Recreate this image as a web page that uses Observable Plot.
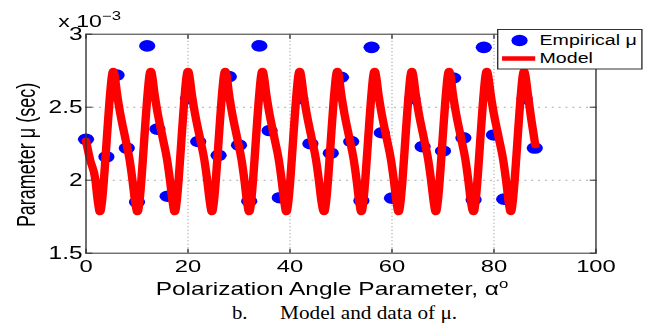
<!DOCTYPE html>
<html><head><meta charset="utf-8">
<script src="https://cdn.jsdelivr.net/npm/d3@7"></script>
<script src="https://cdn.jsdelivr.net/npm/@observablehq/plot@0.6"></script>
<style>
html,body{margin:0;padding:0;background:#fff;}
#wrap{position:relative;width:652px;height:326px;overflow:hidden;font-family:"Liberation Sans",Arial,sans-serif;}
#stretch{position:absolute;left:0;top:0;width:466px;height:300px;transform:scaleX(1.4);transform-origin:0 0;}
#stretch svg{overflow:visible;}
.cap{position:absolute;top:303px;font-family:"Liberation Serif","Times New Roman",serif;font-size:18px;line-height:1.15;white-space:nowrap;transform-origin:0 0;}
</style></head><body>
<div id="wrap"><div id="stretch"></div>
<div class="cap" style="left:232px;transform:scaleX(1.15)">b.</div>
<div class="cap" style="left:280px;transform:scaleX(1.18)">Model and data of μ.</div>
</div>
<script>
// Tick positions and labels
const xTicks = [0, 20, 40, 60, 80, 100];
const xTickLabels = ["0", "20", "40", "60", "80", "100"];
const yTicks = [1.5, 2, 2.5, 3];
const yTickLabels = ["1.5", "2", "2.5", "3"];
const xGrid = [20, 40, 60, 80];
const yGrid = [2, 2.5];

// Empirical mu (x 10^-3 sec)
const empX = [0, 4, 6, 8, 10, 12, 14, 16, 20,
  22, 26, 28, 30, 32, 34, 36, 38, 42,
  44, 48, 50, 52, 54, 56, 58, 60, 64,
  66, 70, 72, 74, 76, 78, 80, 82, 86,
  88];
const empY = [2.28, 2.16, 2.72, 2.22, 1.85, 2.92, 2.35, 1.89, 2.56,
  2.265, 2.17, 2.71, 2.24, 1.856, 2.92, 2.34, 1.88, 2.56,
  2.25, 2.185, 2.705, 2.265, 1.86, 2.91, 2.325, 1.877, 2.56,
  2.23, 2.20, 2.70, 2.29, 1.866, 2.91, 2.31, 1.87, 2.56,
  2.22];

// Model curve
const modelX = [
  0, 0.8, 1.85, 2.3,
  2.75, 3.15, 3.55, 4.05, 4.75, 5.1, 5.35, 5.65, 6.05, 6.75, 7.75, 8.55, 9.15, 9.6,
  10.1, 10.5, 10.9, 11.4, 12.1, 12.45, 12.7, 13.0, 13.4, 14.1, 15.1, 15.9, 16.5, 16.95,
  17.4, 17.8, 18.2, 18.7, 19.4, 19.75, 20.0, 20.3, 20.7, 21.4, 22.4, 23.2, 23.8, 24.25,
  24.7, 25.1, 25.5, 26.0, 26.7, 27.05, 27.3, 27.6, 28.0, 28.7, 29.7, 30.5, 31.1, 31.55,
  32.0, 32.4, 32.8, 33.3, 34.0, 34.35, 34.6, 34.9, 35.3, 36.0, 37.0, 37.8, 38.4, 38.85,
  39.3, 39.7, 40.1, 40.6, 41.3, 41.65, 41.9, 42.2, 42.6, 43.3, 44.3, 45.1, 45.7, 46.15,
  46.7, 47.1, 47.5, 48.0, 48.7, 49.05, 49.3, 49.6, 50.0, 50.7, 51.7, 52.5, 53.1, 53.55,
  54.0, 54.4, 54.8, 55.3, 56.0, 56.35, 56.6, 56.9, 57.3, 58.0, 59.0, 59.8, 60.4, 60.85,
  61.3, 61.7, 62.1, 62.6, 63.3, 63.65, 63.9, 64.2, 64.6, 65.3, 66.3, 67.1, 67.7, 68.15,
  68.6, 69.0, 69.4, 69.9, 70.6, 70.95, 71.2, 71.5, 71.9, 72.6, 73.6, 74.4, 75.0, 75.45,
  76.0, 76.4, 76.8, 77.3, 78.0, 78.35, 78.6, 78.9, 79.3, 80.0, 81.0, 81.8, 82.4, 82.85,
  83.3, 83.7, 84.1, 84.6, 85.3, 85.65, 85.9, 86.2, 86.6, 87.3, 88.1
];
const modelY = [
  2.27, 2.14, 2.0, 1.86,
  1.78, 1.86, 2.02, 2.27, 2.6, 2.72, 2.75, 2.71, 2.6, 2.45, 2.28, 2.14, 1.99, 1.86,
  1.78, 1.86, 2.02, 2.27, 2.6, 2.72, 2.75, 2.71, 2.6, 2.45, 2.28, 2.14, 1.99, 1.86,
  1.78, 1.86, 2.02, 2.27, 2.6, 2.72, 2.75, 2.71, 2.6, 2.45, 2.28, 2.14, 1.99, 1.86,
  1.78, 1.86, 2.02, 2.27, 2.6, 2.72, 2.75, 2.71, 2.6, 2.45, 2.28, 2.14, 1.99, 1.86,
  1.78, 1.86, 2.02, 2.27, 2.6, 2.72, 2.75, 2.71, 2.6, 2.45, 2.28, 2.14, 1.99, 1.86,
  1.78, 1.86, 2.02, 2.27, 2.6, 2.72, 2.75, 2.71, 2.6, 2.45, 2.28, 2.14, 1.99, 1.86,
  1.78, 1.86, 2.02, 2.27, 2.6, 2.72, 2.75, 2.71, 2.6, 2.45, 2.28, 2.14, 1.99, 1.86,
  1.78, 1.86, 2.02, 2.27, 2.6, 2.72, 2.75, 2.71, 2.6, 2.45, 2.28, 2.14, 1.99, 1.86,
  1.78, 1.86, 2.02, 2.27, 2.6, 2.72, 2.75, 2.71, 2.6, 2.45, 2.28, 2.14, 1.99, 1.86,
  1.78, 1.86, 2.02, 2.27, 2.6, 2.72, 2.75, 2.71, 2.6, 2.45, 2.28, 2.14, 1.99, 1.86,
  1.78, 1.86, 2.02, 2.27, 2.6, 2.72, 2.75, 2.71, 2.6, 2.45, 2.28, 2.14, 1.99, 1.86,
  1.78, 1.86, 2.02, 2.27, 2.6, 2.72, 2.75, 2.71, 2.6, 2.42, 2.24
];

const emp = empX.map((x, i) => ({x, y: empY[i]}));
const model = modelX.map((x, i) => ({x, y: modelY[i]}));

const S = 1.4; // horizontal stretch of the original figure
const W = 652 / S;
const axisColor = "#333";

const chart = Plot.plot({
  width: W,
  height: 300,
  marginLeft: 85.3 / S,
  marginRight: W - 595.3 / S,
  marginTop: 33.7,
  marginBottom: 47.3,
  style: {fontFamily: "'Liberation Sans', Arial, sans-serif", fontSize: "17px", color: "black", background: "transparent"},
  x: {domain: [0, 100]},
  y: {domain: [1.5, 3]},
  marks: [
    Plot.gridX(xGrid, {stroke: "#aaa", strokeOpacity: 1, strokeDasharray: "1,2.5"}),
    Plot.gridY(yGrid, {stroke: "#aaa", strokeOpacity: 1, strokeDasharray: "1.4,3.5"}),
    Plot.dot(emp, {x: "x", y: "y", r: 5.8, fill: "#0000ff", stroke: null}),
    Plot.line(model, {x: "x", y: "y", stroke: "#ff0000", strokeWidth: 6, curve: "monotone-x", strokeLinecap: "round", strokeLinejoin: "round"}),
    Plot.axisX({anchor: "bottom", ticks: xTicks, tickSize: -4, tickPadding: 11, stroke: axisColor, label: null, tickFormat: (d, i) => xTickLabels[i], fontSize: 17}),
    Plot.axisX({anchor: "top", ticks: xTicks, tickSize: -4, stroke: axisColor, label: null, tickFormat: () => ""}),
    Plot.axisY({anchor: "left", ticks: yTicks, tickSize: -5, tickPadding: 7.4, stroke: axisColor, label: null, tickFormat: (d, i) => yTickLabels[i], fontSize: 17.5}),
    Plot.axisY({anchor: "right", ticks: yTicks, tickSize: -5, stroke: axisColor, label: null, tickFormat: () => ""}),
    Plot.frame({stroke: axisColor})
  ]
});

const svg = d3.select(chart);
// drop any empty label texts left by the unlabeled top/right axes
svg.selectAll("text").filter(function () { return this.textContent.trim() === ""; }).remove();
// exponent label
const ex = svg.append("text").attr("transform", "translate(64,27.5)").attr("font-size", 16.5).attr("fill", "black");
ex.append("tspan").text("x 10");
ex.append("tspan").attr("dy", -8).attr("font-size", 12).text("−3");
// y label
svg.append("text")
  .attr("transform", `translate(25,155) rotate(-90)`)
  .attr("text-anchor", "middle").attr("font-size", 18).attr("fill", "black")
  .text("Parameter μ (sec)");
// x label
const xl = svg.append("text").attr("transform", `translate(${332 / S},295)`)
  .attr("text-anchor", "middle").attr("font-size", 17.5).attr("fill", "black");
xl.append("tspan").text("Polarization Angle Parameter, α");
xl.append("tspan").attr("dy", -7).attr("font-size", 12).text("o");

const stretch = document.getElementById("stretch");
stretch.appendChild(chart);

// legend
const lg = d3.select(stretch).append("svg")
  .attr("width", 104).attr("height", 41)
  .style("position", "absolute").style("left", (496.7 / S) + "px").style("top", "28.5px")
  .style("font-family", "'Liberation Sans', Arial, sans-serif");
lg.append("rect").attr("x", 0.5).attr("y", 0.5).attr("width", 103).attr("height", 39.5)
  .attr("fill", "white").attr("stroke", axisColor);
lg.append("circle").attr("cx", 16.1).attr("cy", 11.5).attr("r", 5.8).attr("fill", "#0000ff");
lg.append("line").attr("x1", 3.6).attr("x2", 27.3).attr("y1", 29.5).attr("y2", 29.5)
  .attr("stroke", "#ff0000").attr("stroke-width", 4.7);
lg.append("text").attr("x", 30.4).attr("y", 16.5).attr("font-size", 14).text("Empirical μ");
lg.append("text").attr("x", 30.4).attr("y", 34).attr("font-size", 14).text("Model");
</script>
</body></html>
